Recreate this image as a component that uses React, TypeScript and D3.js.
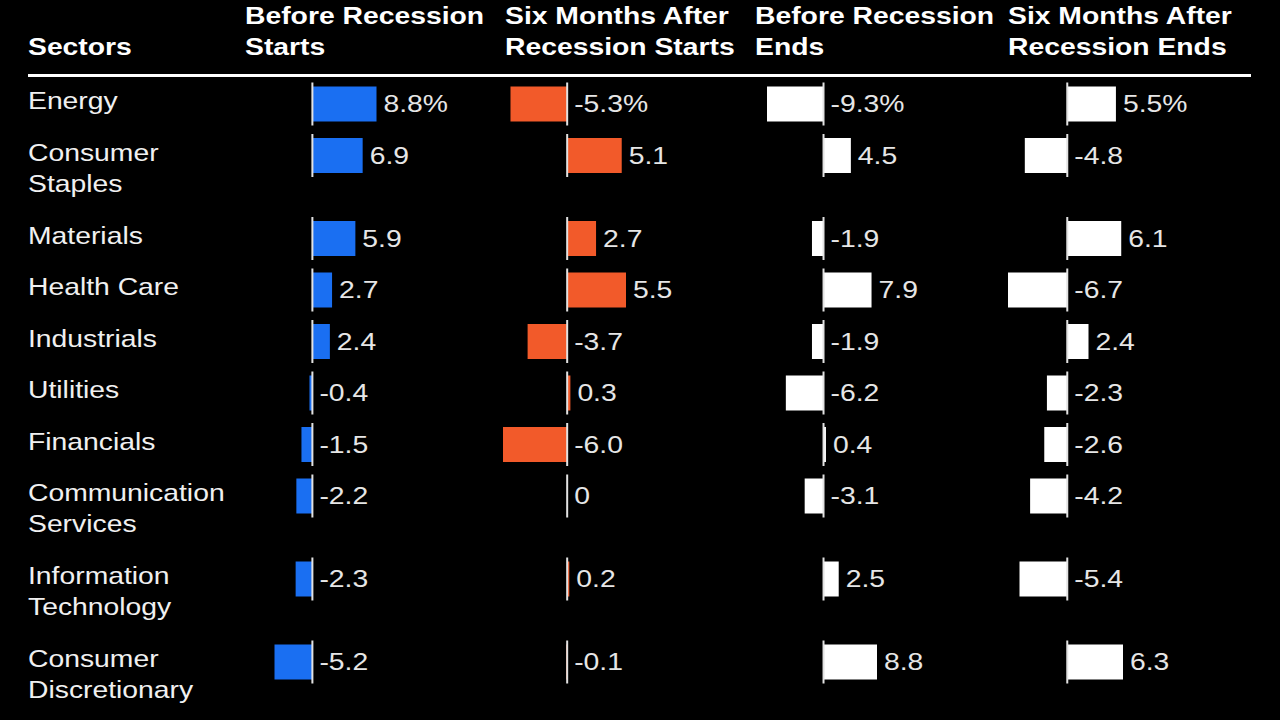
import React from "react";
import * as d3 from "d3";

const sectorLines: string[][] = [
  ["Energy"],
  ["Consumer", "Staples"],
  ["Materials"],
  ["Health Care"],
  ["Industrials"],
  ["Utilities"],
  ["Financials"],
  ["Communication", "Services"],
  ["Information", "Technology"],
  ["Consumer", "Discretionary"],
];

const headerLines: string[][] = [
  ["Before Recession", "Starts"],
  ["Six Months After", "Recession Starts"],
  ["Before Recession", "Ends"],
  ["Six Months After", "Recession Ends"],
];

const beforeStarts = [8.8, 6.9, 5.9, 2.7, 2.4, -0.4, -1.5, -2.2, -2.3, -5.2];
const afterStarts = [-5.3, 5.1, 2.7, 5.5, -3.7, 0.3, -6.0, 0, 0.2, -0.1];
const beforeEnds = [-9.3, 4.5, -1.9, 7.9, -1.9, -6.2, 0.4, -3.1, 2.5, 8.8];
const afterEnds = [5.5, -4.8, 6.1, -6.7, 2.4, -2.3, -2.6, -4.2, -5.4, 6.3];

const seriesValues = [beforeStarts, afterStarts, beforeEnds, afterEnds];
const seriesColors = ["#1a6ff2", "#f25a2a", "#ffffff", "#ffffff"];

const W = 1280;
const H = 720;
const SX = 1.18;
const FONT = "'Liberation Sans', Arial, sans-serif";

const headerX = [245, 505, 755, 1008];
const colRanges: [number, number][] = [
  [274.5, 376.5],
  [503, 626],
  [767, 877],
  [1008, 1123],
];

const firstCenter = 104;
const singleStep = 51.5;
const doubleStep = 83;
const barH = 35;
const zeroH = 43;

export default function App() {
  const centers: number[] = [];
  let y = firstCenter;
  sectorLines.forEach((lines) => {
    centers.push(y);
    y += lines.length > 1 ? doubleStep : singleStep;
  });

  const xScales = seriesValues.map((vals, i) =>
    d3
      .scaleLinear()
      .domain(d3.extent(vals) as [number, number])
      .range(colRanges[i])
  );

  const fmt = (v: number, i: number) =>
    (v === 0 ? "0" : v.toFixed(1)) + (i === 0 ? "%" : "");

  const txt = (
    x: number,
    yy: number,
    s: string,
    opts: { weight?: number; fill?: string; key?: string } = {}
  ) => (
    <text
      key={opts.key}
      transform={`translate(${x},${yy}) scale(${SX},1)`}
      fontFamily={FONT}
      fontSize={24}
      fontWeight={opts.weight ?? 400}
      fill={opts.fill ?? "#f2f2f2"}
    >
      {s}
    </text>
  );

  return (
    <div style={{ position: "fixed", left: 0, top: 0, width: W, height: H, background: "#000" }}>
      <svg width={W} height={H} style={{ display: "block", background: "#000" }}>
        <rect x={0} y={0} width={W} height={H} fill="#000" />
        {txt(28, 55, "Sectors", { weight: 700, fill: "#ffffff", key: "sec" })}
        {headerLines.map((lines, i) =>
          lines.map((l, j) =>
            txt(headerX[i], 24 + j * 31, l, { weight: 700, fill: "#ffffff", key: `h${i}-${j}` })
          )
        )}
        <line x1={28} x2={1251} y1={75.5} y2={75.5} stroke="#ffffff" strokeWidth={3} />

        {sectorLines.map((lines, r) =>
          lines.map((l, j) =>
            txt(28, centers[r] + 5 + j * 31, l, { fill: "#f0f0f0", key: `s${r}-${j}` })
          )
        )}

        {seriesValues.map((vals, c) => {
          const x = xScales[c];
          const x0 = x(0);
          return (
            <g key={`col${c}`}>
              {vals.map((v, r) => {
                const cy = centers[r];
                const xa = Math.min(x(v), x0);
                const xb = Math.max(x(v), x0);
                const labelX = (v > 0 ? xb : x0) + 7;
                return (
                  <g key={`b${c}-${r}`}>
                    <rect x={xa} y={cy - barH / 2} width={xb - xa} height={barH} fill={seriesColors[c]} />
                    <line
                      x1={x0}
                      x2={x0}
                      y1={cy - zeroH / 2}
                      y2={cy + zeroH / 2}
                      stroke="#e2e2e2"
                      strokeWidth={2}
                    />
                    {txt(labelX, cy + 8, fmt(v, r), { fill: "#e6e6e6" })}
                  </g>
                );
              })}
            </g>
          );
        })}
      </svg>
    </div>
  );
}
